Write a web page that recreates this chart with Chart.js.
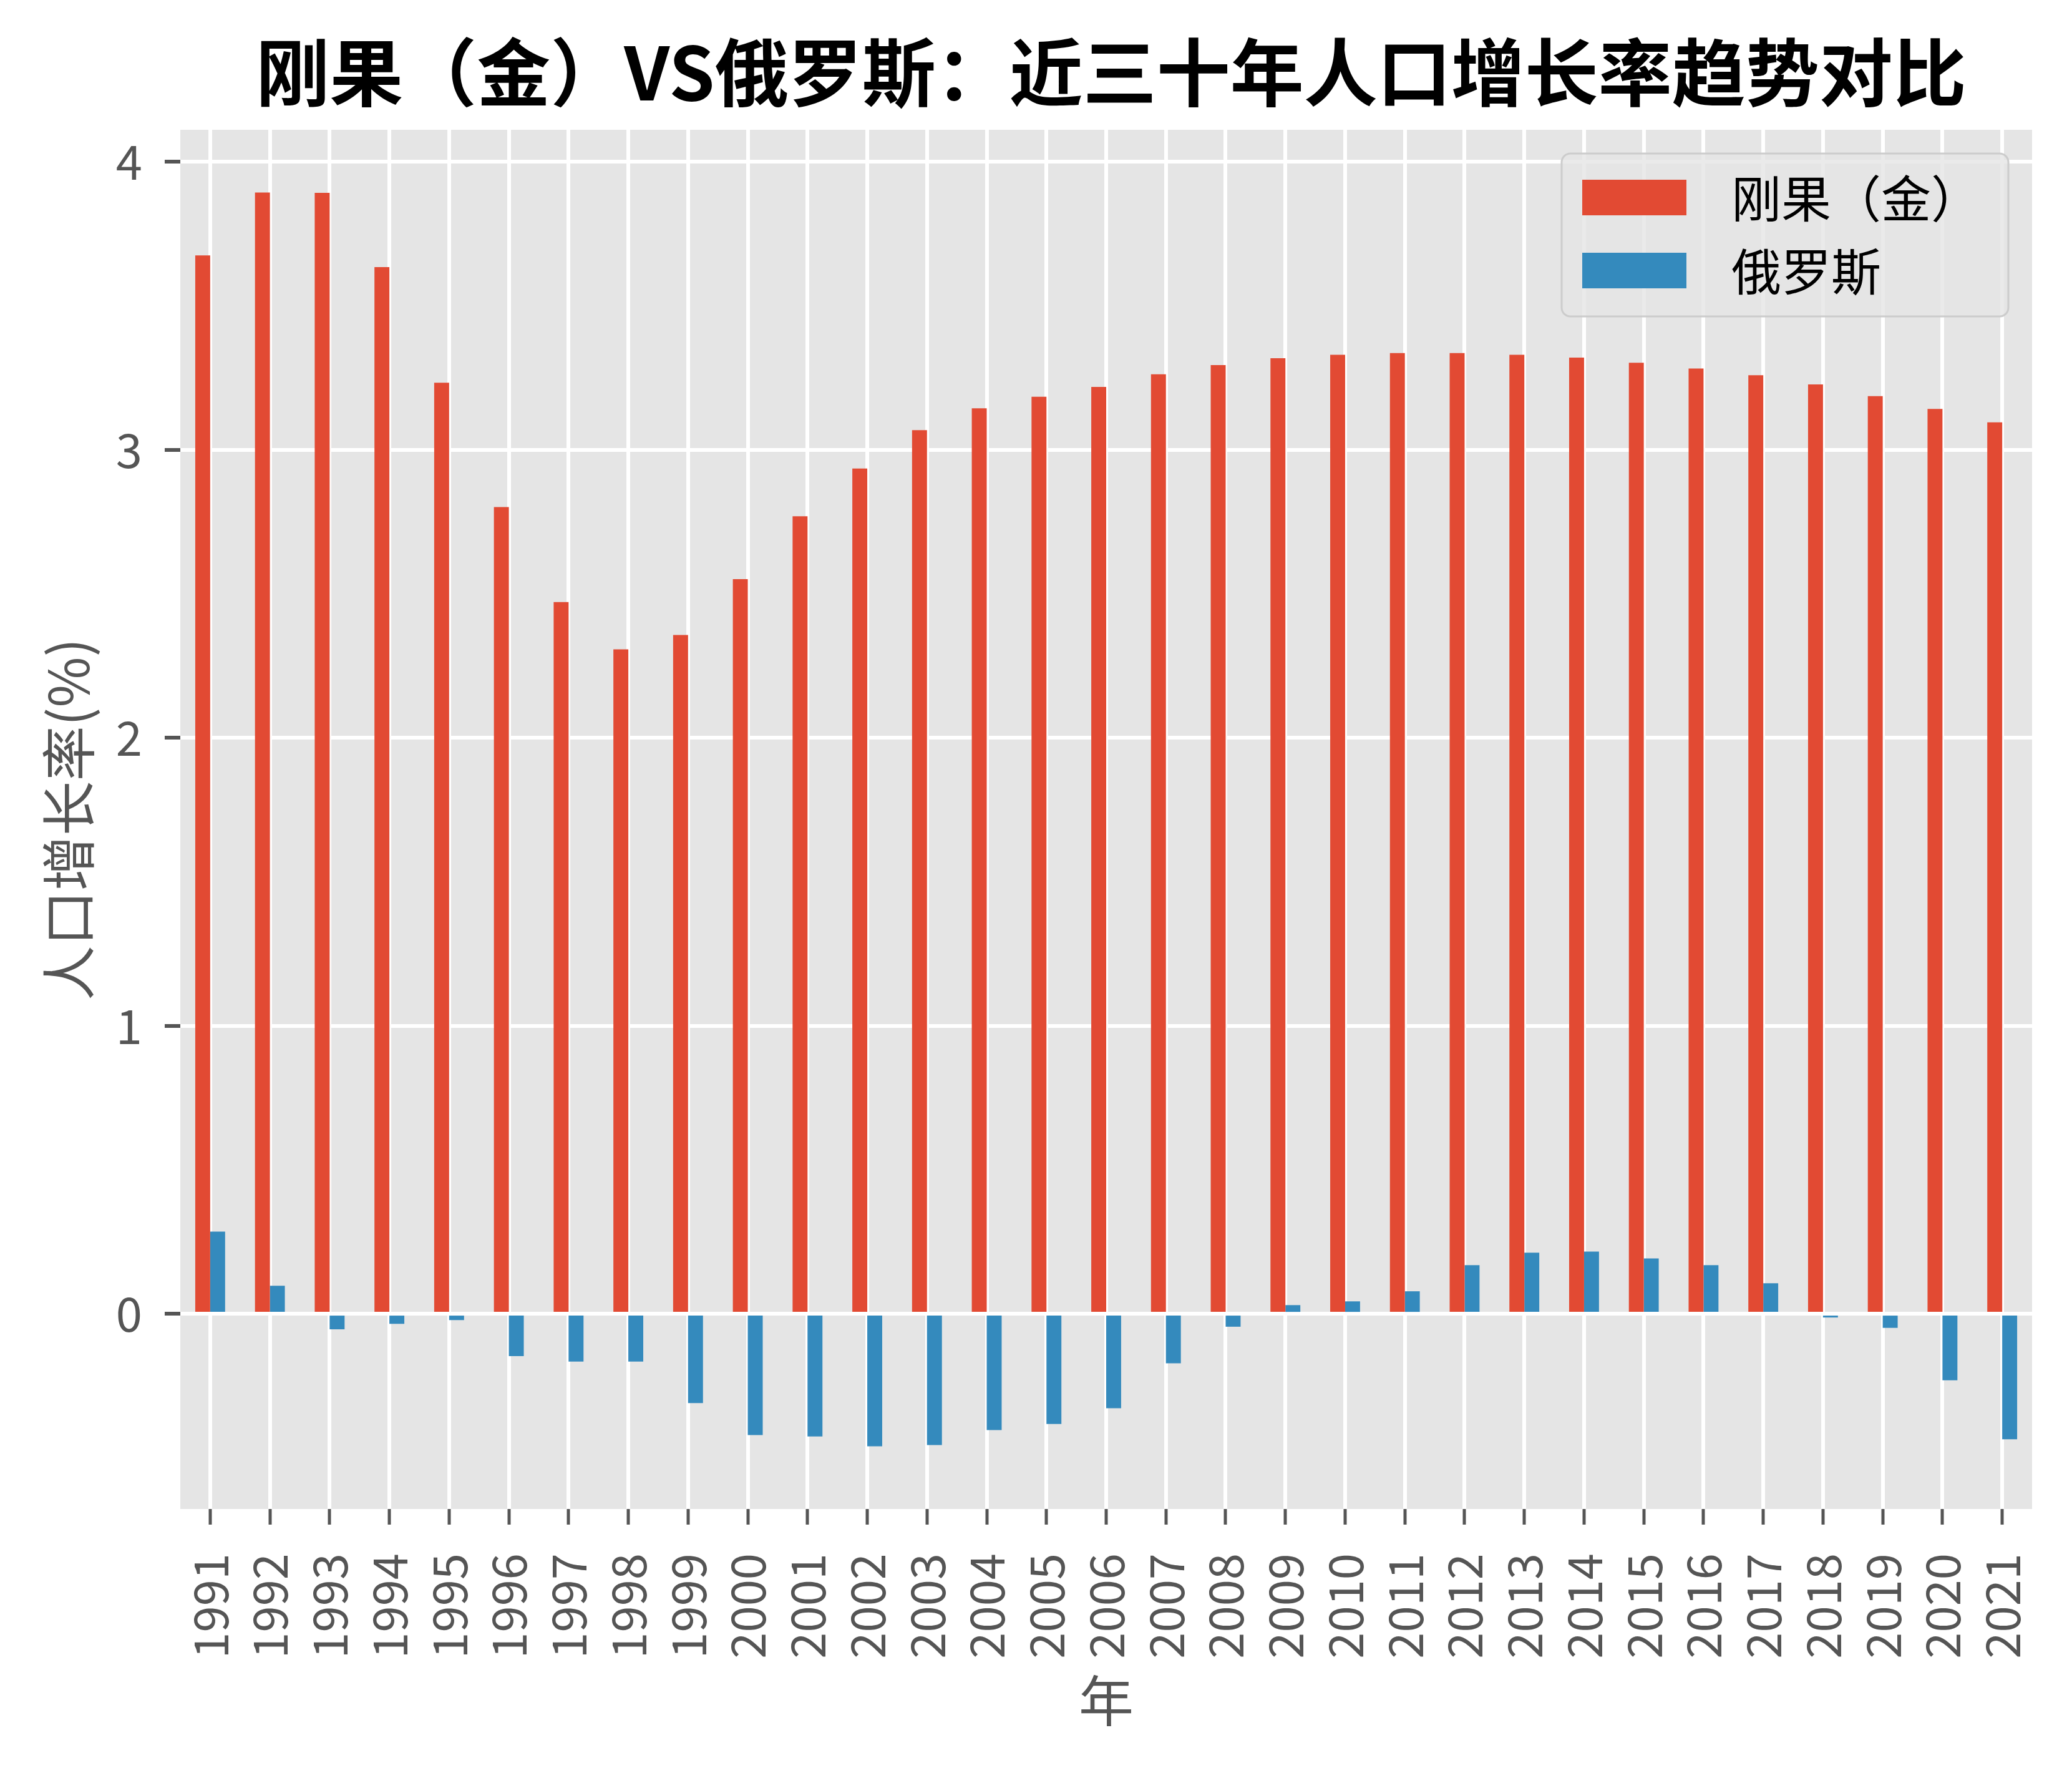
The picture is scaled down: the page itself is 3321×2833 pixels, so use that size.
<!DOCTYPE html>
<html>
<head>
<meta charset="utf-8">
<script src="https://cdn.jsdelivr.net/npm/chart.js@4.4.1/dist/chart.umd.min.js"></script>
<style>
  body { margin: 0; background: #ffffff; }
  #wrap { width: 3321px; height: 2833px; }
</style>
</head>
<body>
<div id="wrap"><canvas id="growthChart" width="3321" height="2833"></canvas></div>
<script>
// years on the x axis
let years = ['1991', '1992', '1993', '1994', '1995', '1996', '1997', '1998', '1999', '2000',
    '2001', '2002', '2003', '2004', '2005', '2006', '2007', '2008', '2009', '2010',
    '2011', '2012', '2013', '2014', '2015', '2016', '2017', '2018', '2019', '2020', '2021'];

// population growth (%)
let congoGrowth = [3.675, 3.893, 3.892, 3.634, 3.233, 2.801, 2.471, 2.307, 2.357, 2.551,
    2.769, 2.935, 3.068, 3.144, 3.184, 3.218, 3.262, 3.294, 3.318, 3.330,
    3.336, 3.336, 3.330, 3.320, 3.302, 3.282, 3.259, 3.227, 3.186, 3.142, 3.095];
let russiaGrowth = [0.285, 0.097, -0.054, -0.035, -0.022, -0.147, -0.166, -0.166, -0.310, -0.421,
    -0.426, -0.460, -0.456, -0.404, -0.383, -0.328, -0.172, -0.045, 0.030, 0.043,
    0.078, 0.169, 0.212, 0.216, 0.192, 0.169, 0.106, -0.013, -0.049, -0.231, -0.436];

let seriesNames = ['刚果（金）', '俄罗斯'];
let yTicks = [0, 1, 2, 3, 4];

let chartTitle = '刚果（金）VS俄罗斯：近三十年人口增长率趋势对比';
let xTitle = '年';
let yTitle = '人口增长率(%)';

const FONT = '"Noto Sans CJK SC", "Noto Sans", sans-serif';

// gray panel behind the bars
const panelBg = {
    id: 'panelBg',
    beforeDraw: (chart) => {
        let a = chart.chartArea;
        let ctx = chart.ctx;
        ctx.save();
        ctx.fillStyle = '#E5E5E5';
        ctx.fillRect(a.left, a.top, a.right - a.left, a.bottom - a.top);
        ctx.restore();
    }
};

// title above the panel, legend in its top right corner
const titleAndLegend = {
    id: 'titleAndLegend',
    afterDraw: (chart) => {
        let a = chart.chartArea;
        let ctx = chart.ctx;
        ctx.save();
        ctx.fillStyle = '#000000';
        ctx.font = 'bold 118px ' + FONT;
        ctx.textAlign = 'center';
        ctx.textBaseline = 'middle';
        ctx.fillText(chartTitle, (a.left + a.right) / 2 + 8, a.top - 92);

        let boxX = a.right - 754, boxY = a.top + 38, boxW = 716, boxH = 261;
        ctx.beginPath();
        ctx.roundRect(boxX, boxY, boxW, boxH, 14);
        ctx.fillStyle = 'rgba(229, 229, 229, 0.8)';
        ctx.fill();
        ctx.lineWidth = 3;
        ctx.strokeStyle = '#cccccc';
        ctx.stroke();

        ctx.font = '80px ' + FONT;
        ctx.textAlign = 'left';
        chart.data.datasets.forEach((ds, i) => {
            let rowY = boxY + 42 + i * 117;
            ctx.fillStyle = ds.backgroundColor;
            ctx.fillRect(boxX + 33, rowY, 167, 57);
            ctx.fillStyle = '#000000';
            ctx.fillText(ds.label, boxX + 272, rowY + 30);
        });
        ctx.restore();
    }
};

displayGrowthChart = () => {
    var ctx = document.getElementById('growthChart').getContext('2d');
    var growthChart = new Chart(ctx, {
        type: 'bar',
        data: {
            labels: years,
            datasets: [{
                label: seriesNames[0],
                data: congoGrowth,
                backgroundColor: '#E24A33',
                categoryPercentage: 0.5,
                barPercentage: 1.0
            },
            {
                label: seriesNames[1],
                data: russiaGrowth,
                backgroundColor: '#348ABD',
                categoryPercentage: 0.5,
                barPercentage: 1.0
            }]
        },
        options: {
            responsive: false,
            animation: false,
            devicePixelRatio: 1,
            layout: { padding: { top: 208, right: 64, left: 0, bottom: 0 } },
            plugins: {
                legend: { display: false },
                title: { display: false },
                tooltip: { enabled: false }
            },
            scales: {
                x: {
                    offset: true,
                    afterFit: (scale) => {
                        scale.height = 415;
                        scale.paddingLeft = 0;
                        scale.paddingRight = 0;
                    },
                    grid: {
                        offset: false,
                        color: '#ffffff',
                        lineWidth: 6,
                        tickColor: '#555555',
                        tickLength: 25,
                        tickWidth: 5
                    },
                    border: { display: false },
                    ticks: {
                        color: '#555555',
                        font: { family: FONT, size: 76 },
                        minRotation: 90,
                        maxRotation: 90,
                        autoSkip: false,
                        padding: 46
                    },
                    title: {
                        display: true,
                        text: xTitle,
                        color: '#555555',
                        font: { family: FONT, size: 88 },
                        padding: { top: 0, bottom: 56 }
                    }
                },
                y: {
                    min: -0.678,
                    max: 4.111,
                    afterFit: (scale) => { scale.width = 289; },
                    afterBuildTicks: (scale) => {
                        scale.ticks = yTicks.map(v => ({ value: v }));
                    },
                    grid: {
                        color: '#ffffff',
                        lineWidth: 6,
                        tickColor: '#555555',
                        tickLength: 25,
                        tickWidth: 6
                    },
                    border: { display: false },
                    ticks: {
                        color: '#555555',
                        font: { family: FONT, size: 76 },
                        padding: 36
                    },
                    title: {
                        display: true,
                        text: yTitle,
                        color: '#555555',
                        font: { family: FONT, size: 88 },
                        padding: { top: 57, bottom: 0 }
                    }
                }
            }
        },
        plugins: [panelBg, titleAndLegend]
    });
};

document.fonts.load('76px "Noto Sans CJK SC"').then(displayGrowthChart, displayGrowthChart);
</script>
</body>
</html>
